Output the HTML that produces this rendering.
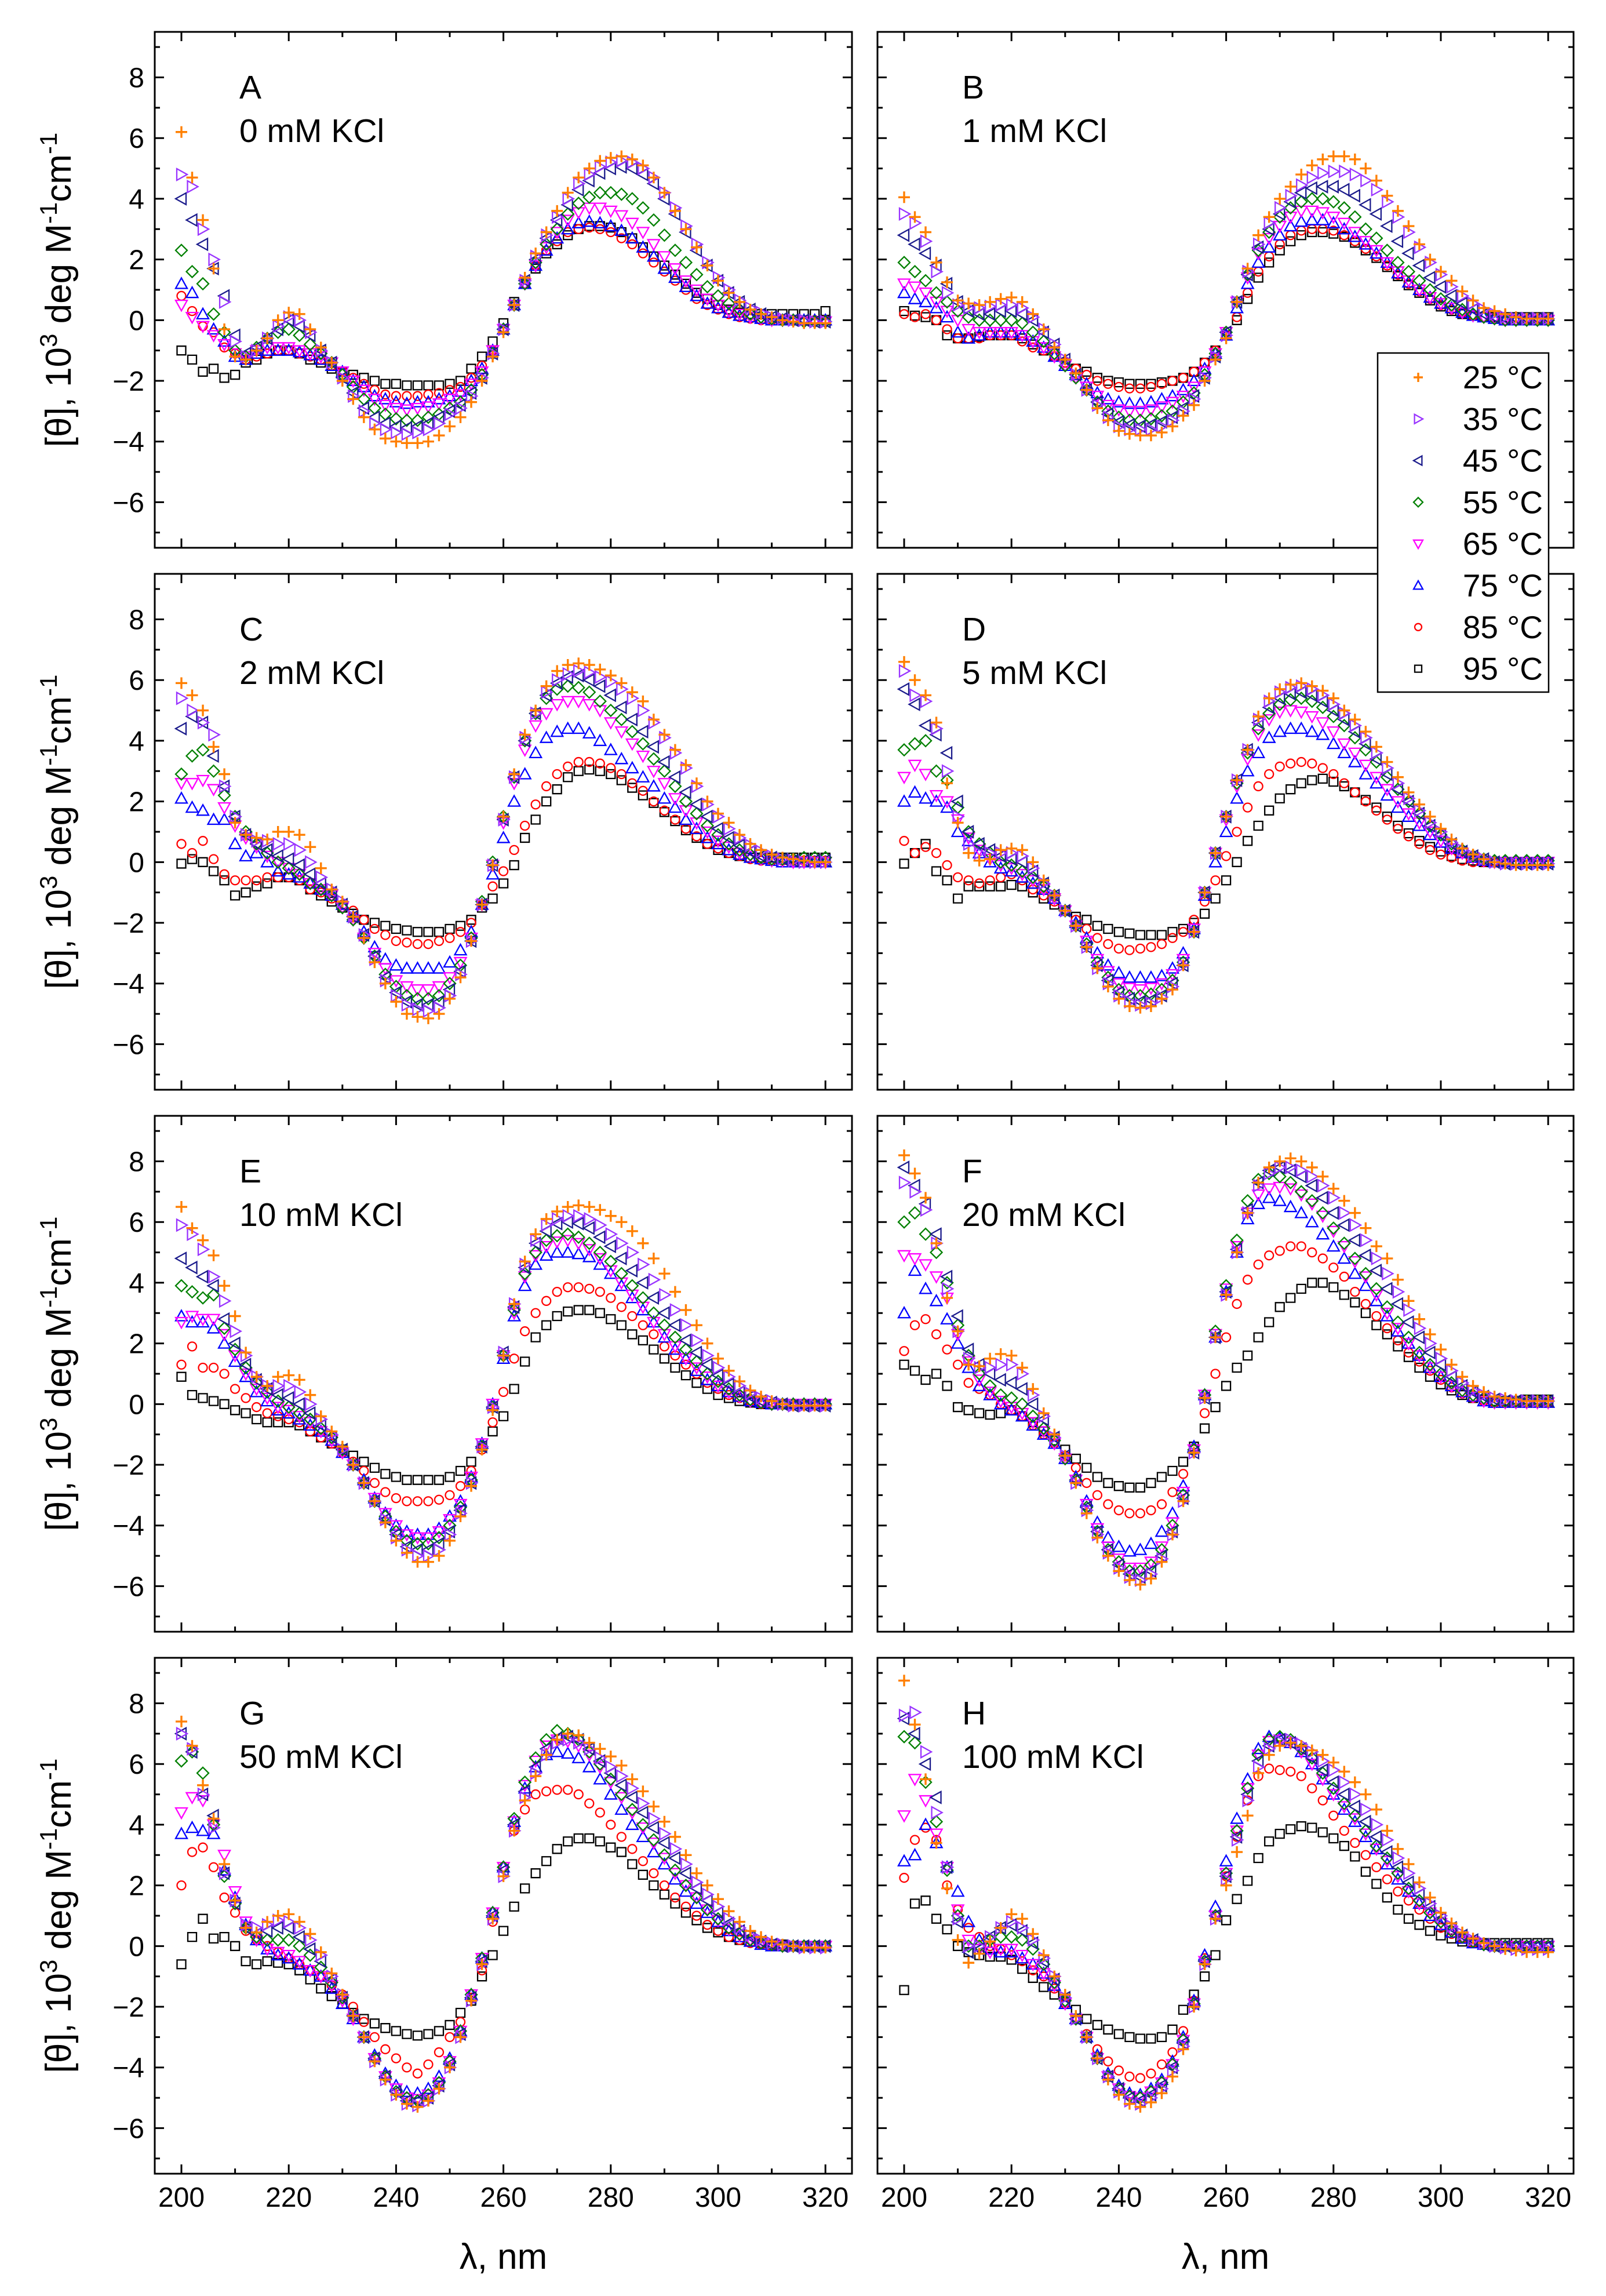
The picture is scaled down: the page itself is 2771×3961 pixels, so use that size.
<!DOCTYPE html>
<html><head><meta charset="utf-8"><title>CD spectra vs KCl and temperature</title>
<style>
html,body{margin:0;padding:0;background:#fff;}
svg{display:block;font-family:"Liberation Sans",Arial,sans-serif;}
</style></head>
<body>
<svg id="fig" xmlns="http://www.w3.org/2000/svg" width="2771" height="3961" viewBox="0 0 2771 3961">
<rect x="0" y="0" width="2771" height="3961" fill="#fff"/>
</svg>
<script>
const wavelengths=[200,202,204,206,208,210,212,214,216,218,220,222,224,226,228,230,232,234,236,238,240,242,244,246,248,250,252,254,256,258,260,262,264,266,268,270,272,274,276,278,280,282,284,286,288,290,292,294,296,298,300,302,304,306,308,310,312,314,316,318,320];
const temps=['25 °C','35 °C','45 °C','55 °C','65 °C','75 °C','85 °C','95 °C'];
const panelLetters=['A','B','C','D','E','F','G','H'];
const panelKCl=['0 mM KCl','1 mM KCl','2 mM KCl','5 mM KCl','10 mM KCl','20 mM KCl','50 mM KCl','100 mM KCl'];
const xTicks=[200,220,240,260,280,300,320];
const yTicks=[-6,-4,-2,0,2,4,6,8];

const A25=[6.2,4.7,3.3,1.7,-0.3,-1.2, -1.3,-1.0,-0.6,0.0,0.25,0.2,-0.3, -0.9,-1.4,-2.0,-2.6,-3.2,-3.6,-3.9,-4.0,-4.05,-4.05,-4.0,-3.8,-3.5,-3.2, -2.7,-2.0,-1.2,-0.4,0.5,1.4,2.2,2.9,3.6,4.2,4.7,5.0,5.25,5.35, 5.4,5.3,5.1,4.7,4.2,3.6,3.0,2.4,1.8,1.3,0.9,0.6,0.35,0.2,0.1,0.0,-0.05,-0.1,-0.1,-0.1];
const A35=[4.8,4.4,3.0,2.0,0.6,-0.7, -1.2,-1.0,-0.6,-0.2,0.1,0.0,-0.4, -1.0,-1.4,-1.9,-2.5,-3.0,-3.4,-3.6,-3.7,-3.75,-3.7,-3.6,-3.4,-3.1,-2.9, -2.5,-1.9,-1.1,-0.3,0.5,1.3,2.1,2.8,3.4,4.0,4.5,4.8,5.05,5.2, 5.25,5.2,5.0,4.7,4.2,3.7,3.1,2.5,1.9,1.4,1.0,0.65,0.4,0.25,0.1,0.05,0,0,-0.05,-0.05];
const A45=[4.0,3.3,2.5,1.7,0.8,-0.5, -1.1,-0.9,-0.6,-0.3,0.0,-0.2,-0.5, -1.0,-1.4,-1.9,-2.4,-2.9,-3.2,-3.4,-3.5,-3.55,-3.5,-3.4,-3.2,-3.0,-2.8, -2.4,-1.9,-1.1,-0.3,0.5,1.3,2.0,2.7,3.3,3.8,4.3,4.6,4.85,5.0, 5.05,5.0,4.8,4.5,4.0,3.5,2.9,2.3,1.8,1.3,0.9,0.6,0.35,0.2,0.1,0.05,0,0,-0.05,-0.05];
const A55=[2.3,1.6,1.2,0.2,-0.4,-1.0, -1.2,-0.9,-0.6,-0.4,-0.3,-0.5,-0.8, -1.1,-1.4,-1.8,-2.2,-2.6,-2.9,-3.1,-3.25,-3.3,-3.3,-3.2,-3.1,-2.9,-2.7, -2.3,-1.8,-1.1,-0.3,0.5,1.2,1.9,2.5,3.0,3.5,3.85,4.05,4.2,4.2, 4.15,4.0,3.7,3.3,2.8,2.3,1.9,1.5,1.1,0.8,0.55,0.35,0.2,0.1,0.05,0,0,-0.05,-0.05,-0.05];
const A65=[0.5,0.1,-0.2,-0.5,-0.8,-1.1, -1.2,-1.0,-0.9,-0.9,-0.9,-1.0,-1.1, -1.2,-1.4,-1.7,-2.0,-2.3,-2.6,-2.8,-2.9,-2.95,-2.9,-2.85,-2.75,-2.6,-2.45, -2.1,-1.7,-1.0,-0.3,0.5,1.2,1.8,2.4,2.9,3.3,3.55,3.7,3.7,3.6, 3.45,3.2,2.9,2.5,2.1,1.7,1.3,1.0,0.7,0.5,0.3,0.2,0.1,0.05,0,0,0,-0.05,-0.05,-0.05];
const A75=[1.2,0.9,0.2,-0.3,-0.7,-1.2, -1.3,-1.1,-1.0,-1.0,-1.0,-1.05,-1.15, -1.3,-1.5,-1.7,-2.0,-2.2,-2.5,-2.6,-2.7,-2.75,-2.7,-2.7,-2.6,-2.5,-2.35, -2.0,-1.6,-1.0,-0.3,0.5,1.2,1.8,2.3,2.7,3.0,3.2,3.25,3.2,3.1, 2.95,2.7,2.4,2.1,1.7,1.4,1.1,0.8,0.55,0.4,0.25,0.15,0.1,0.05,0,0,0,0,0,0];
const A85=[0.8,0.3,-0.2,-0.4,-0.9,-1.1, -1.3,-1.2,-1.1,-1.0,-1.0,-1.1,-1.2, -1.3,-1.5,-1.7,-1.9,-2.1,-2.3,-2.45,-2.5,-2.5,-2.5,-2.45,-2.4,-2.3,-2.2, -1.9,-1.5,-1.0,-0.3,0.5,1.2,1.8,2.3,2.6,2.9,3.0,3.05,3.0,2.9, 2.7,2.5,2.2,1.9,1.6,1.3,1.0,0.7,0.5,0.35,0.2,0.1,0.05,0,0,0,0,0,0,0];
const A95=[-1.0,-1.3,-1.7,-1.6,-1.9,-1.8, -1.4,-1.3,-1.1,-1.0,-1.0,-1.1,-1.3, -1.4,-1.6,-1.7,-1.8,-1.9,-2.0,-2.1,-2.1,-2.15,-2.15,-2.15,-2.15,-2.1,-2.0, -1.6,-1.2,-0.7,-0.1,0.6,1.2,1.7,2.2,2.5,2.8,3.0,3.1,3.1,3.05, 2.9,2.7,2.4,2.1,1.8,1.5,1.2,0.9,0.7,0.5,0.35,0.25,0.2,0.2,0.2,0.2,0.2,0.2,0.2,0.3];

const B25=[4.05,3.4,2.9,1.9,1.25,0.65, 0.55,0.5,0.6,0.7,0.75,0.6,0.2, -0.3,-0.9,-1.3,-1.75,-2.3,-2.9,-3.3,-3.65,-3.75,-3.8,-3.8,-3.7,-3.5,-3.15, -2.8,-2.0,-1.3,-0.6,0.6,1.7,2.8,3.4,4.0,4.4,4.8,5.1,5.3,5.4, 5.4,5.3,5.0,4.6,4.1,3.6,3.1,2.5,2.0,1.6,1.3,0.95,0.65,0.4,0.3,0.2,0.1,0.05,0.05,0.05];
const B35=[3.5,3.2,2.6,1.6,0.9,0.5, 0.4,0.4,0.45,0.5,0.5,0.4,0.1, -0.3,-0.8,-1.3,-1.8,-2.3,-2.8,-3.2,-3.5,-3.6,-3.6,-3.6,-3.5,-3.3,-3.0, -2.6,-1.9,-1.2,-0.5,0.6,1.6,2.5,3.2,3.7,4.1,4.45,4.7,4.85,4.9, 4.9,4.8,4.6,4.3,3.9,3.4,2.9,2.4,1.9,1.5,1.1,0.8,0.55,0.35,0.2,0.1,0.05,0.05,0.05,0.05];
const B45=[2.8,2.5,2.2,1.8,1.2,0.6, 0.3,0.2,0.2,0.3,0.3,0.2,0.0, -0.4,-0.8,-1.3,-1.8,-2.3,-2.7,-3.1,-3.35,-3.45,-3.5,-3.45,-3.35,-3.2,-2.9, -2.5,-1.9,-1.2,-0.4,0.6,1.5,2.4,3.0,3.5,3.9,4.2,4.35,4.4,4.4, 4.3,4.1,3.8,3.5,3.1,2.6,2.2,1.8,1.4,1.1,0.8,0.55,0.35,0.2,0.1,0.05,0.05,0.05,0.05,0.05];
const B55=[1.9,1.6,1.3,0.9,0.6,0.3, 0.1,0.0,0.0,0.0,0.0,-0.1,-0.4, -0.7,-1.1,-1.5,-1.9,-2.3,-2.7,-3.0,-3.2,-3.3,-3.3,-3.25,-3.15,-3.0,-2.7, -2.4,-1.8,-1.1,-0.4,0.6,1.5,2.3,2.9,3.4,3.7,3.9,4.0,4.0,3.9, 3.7,3.4,3.0,2.7,2.3,1.9,1.6,1.3,1.0,0.7,0.5,0.35,0.2,0.1,0.05,0,0,0,0,0];
const B65=[1.2,1.1,0.9,0.6,0.3,0.0, -0.3,-0.4,-0.4,-0.4,-0.4,-0.5,-0.7, -0.9,-1.2,-1.5,-1.9,-2.2,-2.5,-2.8,-2.95,-3.0,-3.0,-2.95,-2.85,-2.7,-2.5, -2.2,-1.7,-1.1,-0.4,0.6,1.4,2.2,2.7,3.1,3.4,3.6,3.6,3.55,3.4, 3.2,2.9,2.6,2.3,1.9,1.6,1.3,1.0,0.75,0.55,0.4,0.25,0.15,0.1,0.05,0,0,0,0,0];
const B75=[0.9,0.7,0.6,0.4,0.1,-0.4, -0.6,-0.5,-0.4,-0.4,-0.4,-0.5,-0.7, -0.9,-1.2,-1.5,-1.8,-2.1,-2.4,-2.6,-2.7,-2.75,-2.75,-2.7,-2.6,-2.5,-2.3, -2.0,-1.6,-1.1,-0.5,0.4,1.2,1.9,2.4,2.8,3.1,3.25,3.3,3.3,3.2, 3.0,2.75,2.5,2.2,1.9,1.55,1.25,1.0,0.75,0.55,0.4,0.25,0.15,0.1,0.05,0,0,0,0,0];
const B85=[0.2,0.1,0.2,0.0,-0.3,-0.6, -0.6,-0.6,-0.5,-0.5,-0.5,-0.7,-0.9, -1.0,-1.2,-1.4,-1.6,-1.8,-2.0,-2.1,-2.2,-2.25,-2.25,-2.2,-2.1,-2.0,-1.9, -1.7,-1.4,-1.0,-0.5,0.1,0.9,1.6,2.1,2.5,2.8,2.95,3.0,3.0,2.95, 2.8,2.6,2.35,2.1,1.8,1.5,1.2,0.95,0.7,0.5,0.35,0.25,0.15,0.1,0.05,0,0,0,0,0];
const B95=[0.3,0.15,0.1,0.0,-0.5,-0.6, -0.6,-0.55,-0.5,-0.5,-0.5,-0.6,-0.8, -1.0,-1.2,-1.4,-1.6,-1.7,-1.9,-2.0,-2.05,-2.1,-2.1,-2.1,-2.05,-2.0,-1.9, -1.7,-1.4,-1.0,-0.5,0.0,0.7,1.4,1.9,2.3,2.6,2.8,2.9,2.9,2.85, 2.75,2.55,2.3,2.05,1.75,1.45,1.15,0.9,0.65,0.45,0.3,0.2,0.15,0.1,0.1,0.1,0.1,0.1,0.1,0.1];

const C25=[5.9,5.5,5.0,3.8,2.9,1.3, 0.9,0.8,0.75,1.0,1.0,0.9,0.5, -0.2,-0.9,-1.3,-1.8,-2.5,-3.3,-4.0,-4.6,-5.0,-5.1,-5.15,-5.0,-4.5,-3.8, -2.6,-1.4,-0.1,1.5,2.9,4.2,5.0,5.8,6.3,6.5,6.55,6.5,6.35,6.15, 5.9,5.6,5.3,4.7,4.2,3.7,3.2,2.6,2.0,1.6,1.3,0.9,0.6,0.4,0.25,0.15,0.1,0.05,0,0];
const C35=[5.4,5.0,4.6,4.2,2.5,1.5, 0.9,0.7,0.7,0.6,0.6,0.4,0.0, -0.5,-0.9,-1.3,-1.8,-2.4,-3.2,-3.9,-4.4,-4.7,-4.85,-4.9,-4.8,-4.4,-3.7, -2.6,-1.4,-0.1,1.4,2.8,4.1,4.9,5.6,6.0,6.2,6.3,6.25,6.1,5.95, 5.7,5.4,5.0,4.6,4.1,3.6,3.1,2.5,1.9,1.5,1.1,0.8,0.55,0.35,0.2,0.1,0.05,0,0,0];
const C45=[4.4,4.8,4.6,3.5,2.5,1.5, 0.9,0.6,0.4,0.2,0.1,-0.1,-0.4, -0.7,-1.0,-1.4,-1.8,-2.4,-3.1,-3.8,-4.3,-4.6,-4.7,-4.7,-4.6,-4.2,-3.6, -2.6,-1.4,-0.1,1.4,2.8,4.0,4.9,5.5,5.9,6.1,6.15,6.0,5.8,5.5, 5.1,4.7,4.3,3.8,3.3,2.8,2.3,1.9,1.5,1.1,0.8,0.55,0.35,0.2,0.15,0.1,0.05,0.05,0.05,0.05];
const C55=[2.9,3.5,3.7,3.0,2.2,1.5, 1.0,0.6,0.3,0.0,-0.2,-0.4,-0.7, -0.9,-1.1,-1.5,-1.9,-2.5,-3.1,-3.7,-4.1,-4.4,-4.5,-4.5,-4.4,-4.0,-3.4, -2.5,-1.3,0.0,1.5,2.8,4.0,4.9,5.4,5.7,5.8,5.75,5.6,5.3,5.0, 4.7,4.3,3.9,3.4,3.0,2.5,2.0,1.6,1.2,0.9,0.6,0.4,0.25,0.15,0.1,0.1,0.1,0.15,0.15,0.15];
const C65=[2.6,2.6,2.7,2.4,1.8,1.2, 0.8,0.5,0.2,0.0,-0.2,-0.4,-0.7, -0.9,-1.1,-1.5,-1.9,-2.5,-3.0,-3.5,-3.9,-4.1,-4.2,-4.2,-4.1,-3.8,-3.3, -2.5,-1.4,-0.1,1.3,2.6,3.7,4.5,4.9,5.2,5.3,5.3,5.2,5.0,4.6, 4.3,3.9,3.5,3.0,2.6,2.1,1.7,1.3,1.0,0.7,0.5,0.3,0.2,0.1,0.05,0.05,0,0,0,0];
const C75=[2.1,1.8,1.7,1.4,1.4,0.6, 0.2,0.3,0.0,-0.3,-0.4,-0.5,-0.7, -0.9,-1.1,-1.4,-1.8,-2.3,-2.8,-3.2,-3.4,-3.5,-3.5,-3.5,-3.5,-3.3,-2.9, -2.3,-1.4,-0.4,0.8,2.0,2.9,3.6,4.1,4.3,4.4,4.4,4.25,4.0,3.7, 3.4,3.1,2.8,2.5,2.1,1.8,1.4,1.1,0.8,0.6,0.4,0.25,0.15,0.1,0.05,0,0,0,0,0];
const C85=[0.6,0.3,0.7,0.1,-0.4,-0.6, -0.6,-0.6,-0.5,-0.5,-0.5,-0.6,-0.9, -1.0,-1.2,-1.4,-1.6,-1.9,-2.2,-2.4,-2.6,-2.65,-2.7,-2.7,-2.6,-2.5,-2.3, -2.0,-1.4,-0.8,-0.3,0.4,1.2,1.9,2.5,2.9,3.15,3.3,3.3,3.25,3.1, 2.9,2.6,2.35,2.0,1.7,1.4,1.1,0.85,0.6,0.45,0.3,0.2,0.1,0.05,0.05,0.05,0.05,0.05,0.05,0.05];
const C95=[-0.05,0.1,0.0,-0.3,-0.6,-1.1, -1.0,-0.8,-0.7,-0.5,-0.5,-0.6,-0.9, -1.1,-1.3,-1.5,-1.7,-1.9,-2.0,-2.1,-2.2,-2.25,-2.3,-2.3,-2.3,-2.2,-2.1, -1.9,-1.5,-1.2,-0.7,-0.1,0.8,1.4,2.0,2.4,2.8,3.0,3.05,3.0,2.9, 2.7,2.45,2.2,1.95,1.65,1.35,1.05,0.8,0.6,0.4,0.3,0.2,0.15,0.15,0.15,0.15,0.15,0.15,0.15,0.15];

const D25=[6.6,6.0,5.5,4.6,2.6,1.3, 0.3,0.05,0.1,0.4,0.45,0.4,0.0, -0.6,-1.1,-1.6,-2.1,-2.8,-3.5,-4.1,-4.5,-4.75,-4.8,-4.75,-4.5,-4.2,-3.4, -2.3,-1.0,0.3,1.5,2.7,3.7,4.8,5.4,5.7,5.85,5.9,5.8,5.65,5.4, 5.0,4.7,4.3,3.8,3.3,2.8,2.3,1.9,1.5,1.1,0.75,0.45,0.25,0.1,0.0,-0.05,-0.1,-0.1,-0.1,-0.1];
const D35=[6.3,5.5,5.3,4.4,3.0,1.5, 0.6,0.3,0.3,0.3,0.3,0.2,-0.2, -0.7,-1.1,-1.6,-2.1,-2.8,-3.5,-4.0,-4.4,-4.6,-4.7,-4.65,-4.45,-4.1,-3.4, -2.3,-1.0,0.3,1.5,2.7,3.7,4.7,5.3,5.6,5.75,5.8,5.7,5.5,5.2, 4.9,4.5,4.1,3.6,3.1,2.6,2.1,1.7,1.3,1.0,0.65,0.4,0.2,0.1,0.0,-0.05,-0.05,-0.05,-0.05,-0.05];
const D45=[5.7,5.2,4.5,4.2,3.6,2.0, 1.0,0.6,0.4,0.2,0.1,0.0,-0.3, -0.7,-1.1,-1.6,-2.1,-2.8,-3.4,-3.9,-4.3,-4.5,-4.6,-4.55,-4.4,-4.0,-3.4, -2.3,-1.0,0.3,1.5,2.7,3.7,4.6,5.1,5.4,5.55,5.6,5.5,5.3,5.0, 4.7,4.3,3.9,3.4,2.9,2.4,2.0,1.6,1.2,0.9,0.6,0.35,0.2,0.1,0.0,-0.05,-0.05,-0.05,-0.05,-0.05];
const D55=[3.7,3.9,4.0,3.0,2.7,1.8, 1.0,0.6,0.3,0.0,-0.1,-0.3,-0.5, -0.8,-1.1,-1.6,-2.1,-2.7,-3.3,-3.8,-4.2,-4.4,-4.4,-4.35,-4.2,-3.9,-3.3, -2.3,-1.0,0.3,1.5,2.6,3.6,4.4,4.9,5.2,5.35,5.4,5.3,5.1,4.8, 4.5,4.1,3.7,3.3,2.8,2.4,2.0,1.6,1.2,0.9,0.6,0.4,0.2,0.1,0.05,0.05,0.05,0.05,0.05,0.05];
const D65=[2.8,3.2,2.9,2.2,2.0,1.4, 0.8,0.4,0.1,-0.1,-0.2,-0.4,-0.6, -0.9,-1.2,-1.6,-2.1,-2.6,-3.2,-3.6,-4.0,-4.15,-4.2,-4.15,-4.0,-3.7,-3.2, -2.2,-1.0,0.3,1.4,2.5,3.4,4.2,4.7,4.95,5.0,4.95,4.8,4.6,4.3, 3.9,3.6,3.2,2.8,2.4,2.0,1.6,1.3,1.0,0.7,0.45,0.3,0.15,0.05,0,0,0,0,0,0];
const D75=[2.0,2.3,2.1,2.0,1.8,1.0, 0.7,0.3,0.0,-0.2,-0.3,-0.5,-0.7, -0.9,-1.2,-1.6,-2.0,-2.5,-3.0,-3.4,-3.65,-3.8,-3.8,-3.8,-3.75,-3.5,-3.0, -2.2,-1.1,0.0,1.0,2.1,3.0,3.6,4.1,4.3,4.4,4.4,4.3,4.2,3.9, 3.6,3.3,2.9,2.6,2.2,1.8,1.5,1.2,0.9,0.65,0.45,0.3,0.15,0.05,0,0,0,0,0,0];
const D85=[0.7,0.3,0.5,0.3,-0.1,-0.5, -0.6,-0.7,-0.6,-0.5,-0.4,-0.6,-0.9, -1.1,-1.3,-1.6,-1.9,-2.2,-2.5,-2.7,-2.85,-2.9,-2.85,-2.8,-2.7,-2.5,-2.3, -1.9,-1.3,-0.6,0.2,1.0,1.8,2.5,2.9,3.15,3.25,3.3,3.25,3.1,2.9, 2.6,2.3,2.0,1.7,1.4,1.1,0.85,0.6,0.4,0.25,0.15,0.05,0,0,0,0,0,0,0,0];
const D95=[-0.05,0.3,0.6,-0.3,-0.6,-1.2, -0.8,-0.8,-0.8,-0.8,-0.75,-0.8,-1.0, -1.2,-1.4,-1.6,-1.8,-1.9,-2.1,-2.2,-2.3,-2.35,-2.4,-2.4,-2.4,-2.3,-2.2, -2.0,-1.7,-1.2,-0.6,0.0,0.7,1.2,1.7,2.1,2.4,2.6,2.7,2.75,2.65, 2.5,2.3,2.05,1.8,1.5,1.2,0.95,0.7,0.5,0.35,0.2,0.1,0.05,0,0,0,0,0,0,0];

const E25=[6.5,5.8,5.4,4.9,3.9,2.9, 1.7,0.9,0.6,0.9,0.95,0.8,0.3, -0.4,-0.9,-1.4,-2.0,-2.6,-3.2,-3.9,-4.5,-4.9,-5.2,-5.2,-5.0,-4.5,-3.7, -2.7,-1.5,-0.2,1.6,3.3,4.7,5.6,6.1,6.35,6.5,6.55,6.5,6.4,6.2, 6.0,5.7,5.3,4.8,4.3,3.7,3.1,2.6,2.0,1.5,1.1,0.75,0.45,0.25,0.1,0,-0.05,-0.05,-0.05,-0.05];
const E35=[5.9,5.6,5.1,4.2,3.4,2.4, 1.6,0.9,0.6,0.6,0.6,0.4,0.0, -0.5,-1.0,-1.5,-2.0,-2.6,-3.2,-3.8,-4.4,-4.8,-5.0,-5.0,-4.8,-4.3,-3.6, -2.6,-1.4,-0.1,1.7,3.3,4.6,5.4,5.9,6.1,6.2,6.2,6.1,5.9,5.6, 5.3,5.0,4.6,4.1,3.6,3.1,2.6,2.1,1.6,1.2,0.9,0.6,0.35,0.2,0.1,0,-0.05,-0.05,-0.05,-0.05];
const E45=[4.8,4.5,4.2,3.9,2.8,2.0, 1.3,0.8,0.5,0.3,0.2,0.0,-0.3, -0.7,-1.1,-1.5,-2.0,-2.6,-3.2,-3.8,-4.3,-4.7,-4.8,-4.8,-4.6,-4.2,-3.5, -2.6,-1.4,-0.1,1.7,3.2,4.5,5.3,5.7,5.95,6.0,5.95,5.8,5.5,5.2, 4.8,4.4,4.0,3.5,3.0,2.6,2.1,1.7,1.3,0.95,0.65,0.4,0.25,0.1,0.05,0,-0.05,-0.05,-0.05,-0.05];
const E55=[3.9,3.7,3.5,3.6,2.5,1.8, 1.2,0.7,0.4,0.1,-0.1,-0.3,-0.5, -0.8,-1.1,-1.5,-2.0,-2.6,-3.2,-3.7,-4.2,-4.5,-4.6,-4.6,-4.4,-4.0,-3.4, -2.5,-1.4,-0.1,1.6,3.1,4.3,5.0,5.4,5.55,5.6,5.5,5.3,5.0,4.7, 4.3,3.9,3.5,3.0,2.6,2.2,1.8,1.4,1.0,0.75,0.5,0.3,0.15,0.05,0,0,0,0,0,0];
const E65=[2.7,2.9,2.8,2.8,2.3,1.6, 1.0,0.5,0.2,-0.1,-0.2,-0.4,-0.6, -0.9,-1.2,-1.6,-2.0,-2.6,-3.1,-3.6,-4.0,-4.3,-4.4,-4.4,-4.2,-3.8,-3.3, -2.4,-1.3,0.0,1.6,3.0,4.2,4.9,5.2,5.35,5.4,5.3,5.1,4.8,4.4, 4.0,3.6,3.2,2.7,2.3,1.9,1.5,1.2,0.9,0.6,0.4,0.25,0.1,0.05,0,0,0,0,0,0];
const E75=[2.9,2.7,2.7,2.5,2.0,1.4, 0.9,0.4,0.1,-0.2,-0.3,-0.5,-0.7, -0.9,-1.2,-1.6,-2.0,-2.5,-3.1,-3.6,-4.0,-4.2,-4.3,-4.3,-4.1,-3.7,-3.2, -2.4,-1.3,0.0,1.5,2.9,3.9,4.6,4.9,5.0,5.0,4.95,4.85,4.6,4.3, 3.9,3.5,3.1,2.7,2.2,1.8,1.5,1.1,0.8,0.6,0.4,0.25,0.1,0.05,0,0,0,0,0,0];
const E85=[1.3,1.9,1.2,1.2,1.0,0.5, 0.2,-0.1,-0.3,-0.4,-0.5,-0.6,-0.9, -1.1,-1.3,-1.6,-1.9,-2.2,-2.6,-2.9,-3.1,-3.2,-3.2,-3.2,-3.15,-3.0,-2.7, -2.2,-1.5,-0.6,0.4,1.5,2.4,3.0,3.4,3.7,3.85,3.85,3.8,3.7,3.5, 3.2,2.9,2.6,2.3,1.9,1.6,1.3,1.0,0.7,0.5,0.3,0.2,0.1,0,0,0,0,0,0,0];
const E95=[0.9,0.3,0.2,0.1,0.0,-0.2, -0.3,-0.5,-0.6,-0.6,-0.6,-0.7,-0.9, -1.1,-1.3,-1.5,-1.7,-1.9,-2.1,-2.3,-2.4,-2.5,-2.5,-2.5,-2.5,-2.4,-2.2, -1.9,-1.4,-0.9,-0.4,0.5,1.4,2.2,2.6,2.9,3.05,3.1,3.1,3.0,2.8, 2.6,2.3,2.1,1.8,1.5,1.2,0.95,0.7,0.5,0.3,0.2,0.1,0.05,0,0,0,0,0,0,0];

const F25=[8.2,7.6,6.8,5.3,3.5,2.4, 1.3,1.25,1.5,1.65,1.6,1.2,0.5, -0.3,-1.0,-1.7,-2.6,-3.6,-4.4,-5.0,-5.5,-5.8,-5.95,-5.75,-5.2,-4.3,-3.2, -1.6,0.2,2.2,3.6,5.0,6.3,7.3,7.8,8.0,8.1,8.0,7.8,7.5,7.1, 6.7,6.3,5.8,5.2,4.8,4.1,3.4,2.8,2.3,1.8,1.3,0.9,0.6,0.4,0.25,0.2,0.15,0.1,0.1,0.1];
const F35=[7.3,7.0,6.4,5.3,3.8,2.4, 1.5,1.2,1.2,1.3,1.3,1.0,0.3, -0.4,-1.1,-1.7,-2.6,-3.5,-4.3,-4.9,-5.4,-5.7,-5.8,-5.6,-5.1,-4.3,-3.2, -1.6,0.2,2.2,3.6,5.0,6.3,7.2,7.6,7.8,7.8,7.7,7.5,7.2,6.8, 6.3,5.9,5.4,4.8,4.3,3.7,3.1,2.5,2.0,1.5,1.1,0.7,0.45,0.3,0.2,0.15,0.1,0.1,0.1,0.1];
const F45=[7.8,7.2,6.6,5.6,4.2,2.9, 1.8,1.3,1.0,0.8,0.7,0.5,0.0, -0.5,-1.1,-1.7,-2.5,-3.4,-4.2,-4.8,-5.3,-5.6,-5.7,-5.5,-5.0,-4.2,-3.1, -1.6,0.2,2.2,3.7,5.1,6.4,7.3,7.7,7.8,7.7,7.5,7.2,6.8,6.3, 5.9,5.4,4.9,4.4,3.8,3.3,2.7,2.2,1.7,1.3,0.9,0.6,0.4,0.25,0.15,0.1,0.1,0.1,0.1,0.1];
const F55=[6.0,6.3,5.6,5.0,4.0,2.6, 1.6,1.0,0.6,0.3,0.2,0.0,-0.4, -0.8,-1.2,-1.8,-2.5,-3.4,-4.2,-4.8,-5.2,-5.5,-5.5,-5.3,-4.8,-4.0,-3.0, -1.5,0.3,2.4,3.9,5.4,6.7,7.4,7.6,7.5,7.3,7.0,6.7,6.3,5.8, 5.3,4.8,4.3,3.8,3.2,2.7,2.2,1.7,1.3,1.0,0.7,0.45,0.3,0.2,0.1,0.1,0.1,0.1,0.1,0.1];
const F65=[4.9,4.8,4.6,4.2,3.5,2.3, 1.4,0.8,0.4,0.1,-0.1,-0.3,-0.6, -0.9,-1.3,-1.8,-2.5,-3.3,-4.1,-4.7,-5.1,-5.4,-5.4,-5.2,-4.7,-3.9,-2.9, -1.5,0.3,2.3,3.8,5.2,6.3,6.9,7.1,7.15,7.1,6.9,6.6,6.2,5.7, 5.2,4.7,4.2,3.6,3.0,2.5,2.0,1.6,1.2,0.9,0.6,0.4,0.25,0.1,0.05,0.05,0.05,0.05,0.05,0.05];
const F75=[3.0,4.4,3.8,3.4,2.8,2.0, 1.2,0.6,0.3,0.0,-0.2,-0.4,-0.7, -1.0,-1.3,-1.8,-2.4,-3.2,-3.9,-4.4,-4.7,-4.85,-4.8,-4.6,-4.2,-3.6,-2.7, -1.4,0.3,2.2,3.7,5.0,6.1,6.6,6.8,6.7,6.5,6.3,6.0,5.6,5.2, 4.8,4.3,3.9,3.4,2.9,2.4,2.0,1.6,1.2,0.9,0.6,0.4,0.25,0.1,0.05,0.05,0.05,0.05,0.05,0.05];
const F85=[1.75,2.6,2.8,2.3,1.8,1.3, 0.7,0.5,0.3,0.0,-0.2,-0.4,-0.7, -1.0,-1.3,-1.7,-2.1,-2.6,-3.0,-3.3,-3.5,-3.6,-3.6,-3.5,-3.3,-2.9,-2.3, -1.5,-0.3,1.0,2.2,3.3,4.1,4.6,4.9,5.05,5.2,5.2,5.0,4.8,4.5, 4.2,3.7,3.3,2.9,2.5,2.1,1.7,1.4,1.1,0.8,0.55,0.35,0.2,0.1,0.05,0.05,0.05,0.05,0.05,0.05];
const F95=[1.3,1.1,0.8,1.0,0.6,-0.1, -0.2,-0.3,-0.35,-0.3,-0.2,-0.4,-0.6, -0.9,-1.2,-1.5,-1.8,-2.1,-2.4,-2.6,-2.7,-2.75,-2.75,-2.6,-2.4,-2.2,-1.9, -1.4,-0.8,-0.1,0.6,1.2,1.6,2.2,2.7,3.2,3.5,3.8,4.0,4.0,3.85, 3.6,3.35,3.0,2.6,2.3,1.9,1.55,1.2,0.9,0.65,0.45,0.3,0.2,0.15,0.1,0.1,0.1,0.15,0.15,0.15];

const G25=[7.4,6.6,5.3,4.2,2.7,1.5, 0.6,0.45,0.8,1.0,1.05,0.8,0.4, -0.2,-0.9,-1.6,-2.3,-3.0,-3.8,-4.4,-4.9,-5.2,-5.3,-5.1,-4.7,-4.0,-3.0, -1.8,-0.6,0.9,2.3,3.8,4.8,5.6,6.3,6.8,7.0,6.95,6.7,6.5,6.25, 5.95,5.5,5.1,4.6,4.1,3.6,3.0,2.4,2.0,1.55,1.15,0.8,0.5,0.3,0.15,0.05,0,-0.05,-0.05,-0.05];
const G35=[7.0,6.5,5.0,3.9,2.4,1.5, 0.7,0.6,0.7,0.85,0.8,0.6,0.2, -0.3,-1.0,-1.6,-2.3,-3.0,-3.8,-4.4,-4.9,-5.2,-5.25,-5.1,-4.7,-4.0,-3.0, -1.8,-0.6,0.9,2.3,3.8,4.9,5.7,6.3,6.7,6.8,6.7,6.5,6.2,5.9, 5.6,5.2,4.7,4.2,3.7,3.2,2.7,2.1,1.7,1.3,0.9,0.6,0.35,0.2,0.1,0.05,0,-0.05,-0.05,-0.05];
const G45=[7.0,6.4,5.0,4.3,2.4,1.4, 0.6,0.4,0.5,0.6,0.6,0.3,-0.1, -0.5,-1.1,-1.7,-2.3,-3.0,-3.7,-4.3,-4.8,-5.1,-5.1,-5.0,-4.6,-3.9,-2.9, -1.7,-0.5,1.0,2.5,4.0,5.1,5.9,6.5,6.85,6.9,6.8,6.5,6.1,5.7, 5.3,4.9,4.4,3.9,3.4,2.9,2.4,1.9,1.5,1.1,0.75,0.5,0.3,0.15,0.05,0,0,0,0,0];
const G55=[6.1,6.4,5.7,4.0,2.3,1.4, 0.6,0.3,0.2,0.2,0.2,0.0,-0.3, -0.7,-1.2,-1.7,-2.3,-3.0,-3.7,-4.3,-4.8,-5.0,-5.1,-4.9,-4.5,-3.8,-2.8, -1.6,-0.4,1.1,2.6,4.2,5.4,6.2,6.8,7.1,7.0,6.8,6.4,6.0,5.5, 5.0,4.5,4.0,3.5,3.0,2.5,2.0,1.6,1.2,0.9,0.6,0.4,0.2,0.1,0.05,0,0,0,0,0];
const G65=[4.4,4.9,4.8,4.0,3.0,1.8, 0.8,0.2,-0.1,-0.2,-0.3,-0.5,-0.8, -1.0,-1.3,-1.8,-2.4,-3.0,-3.7,-4.3,-4.7,-5.0,-5.05,-4.9,-4.5,-3.8,-2.8, -1.6,-0.4,1.1,2.6,4.1,5.3,6.1,6.6,6.8,6.75,6.6,6.3,5.9,5.4, 4.9,4.4,3.9,3.4,2.9,2.4,2.0,1.6,1.2,0.85,0.55,0.35,0.2,0.1,0.05,0,0,0,0,0];
const G75=[3.7,3.9,3.8,3.7,2.5,1.6, 0.7,0.2,-0.1,-0.3,-0.4,-0.6,-0.8, -1.0,-1.4,-1.9,-2.4,-3.0,-3.6,-4.2,-4.6,-4.8,-4.85,-4.7,-4.3,-3.7,-2.8, -1.6,-0.4,1.1,2.6,4.1,5.2,5.9,6.3,6.4,6.35,6.2,5.9,5.5,5.0, 4.5,4.0,3.6,3.1,2.7,2.2,1.8,1.4,1.1,0.8,0.5,0.3,0.15,0.05,0,0,0,0,0,0];
const G85=[2.0,3.1,3.25,2.6,1.6,1.1, 0.5,0.2,0.0,-0.2,-0.4,-0.6,-0.8, -1.0,-1.3,-1.6,-2.0,-2.5,-3.0,-3.4,-3.7,-4.0,-4.2,-3.9,-3.5,-3.0,-2.5, -1.7,-0.8,0.8,2.6,3.8,4.5,5.0,5.1,5.15,5.15,5.0,4.7,4.4,4.0, 3.6,3.2,2.8,2.4,2.0,1.6,1.3,1.0,0.7,0.5,0.3,0.2,0.1,0.05,0,0,0,0,0,0];
const G95=[-0.6,0.3,0.9,0.25,0.3,0.0, -0.5,-0.6,-0.5,-0.55,-0.6,-0.8,-1.1, -1.4,-1.65,-1.9,-2.2,-2.4,-2.55,-2.7,-2.8,-2.9,-2.95,-2.9,-2.8,-2.6,-2.2, -1.8,-1.0,-0.3,0.5,1.3,1.9,2.4,2.8,3.2,3.45,3.55,3.55,3.45,3.25, 3.1,2.7,2.35,2.0,1.7,1.4,1.1,0.85,0.6,0.45,0.3,0.2,0.15,0.1,0.05,0.05,0,0,0,0];

const H25=[8.75,7.3,5.5,3.4,1.9,0.2, -0.55,-0.25,0.15,0.6,1.05,0.9,0.4, -0.3,-1.0,-1.6,-2.3,-3.0,-3.7,-4.4,-4.9,-5.2,-5.3,-5.15,-4.85,-4.3,-3.4, -2.0,-0.6,0.9,2.0,3.1,4.3,5.7,6.3,6.6,6.7,6.6,6.45,6.3,6.05, 5.75,5.4,5.0,4.5,3.8,3.2,2.7,2.1,1.6,1.1,0.75,0.45,0.25,0.1,0.0,-0.1,-0.15,-0.2,-0.2,-0.2];
const H35=[7.6,7.7,6.4,4.4,2.6,0.9, 0.0,0.0,0.3,0.6,0.8,0.6,0.2, -0.4,-1.0,-1.7,-2.4,-3.0,-3.7,-4.3,-4.8,-5.1,-5.2,-5.0,-4.7,-4.1,-3.3, -2.0,-0.6,0.9,2.2,3.5,4.8,5.9,6.5,6.75,6.8,6.65,6.4,6.1,5.8, 5.4,5.0,4.5,4.0,3.5,2.9,2.4,1.9,1.4,1.0,0.65,0.4,0.2,0.1,0,-0.05,-0.1,-0.1,-0.1,-0.1];
const H45=[7.5,7.0,6.0,4.9,2.6,0.8, -0.2,-0.1,0.3,0.6,0.7,0.5,0.1, -0.5,-1.1,-1.7,-2.4,-3.0,-3.7,-4.3,-4.7,-5.0,-5.1,-4.9,-4.6,-4.0,-3.2, -1.9,-0.5,1.0,2.3,3.6,5.0,6.1,6.6,6.8,6.7,6.5,6.2,5.8,5.4, 5.0,4.6,4.1,3.6,3.1,2.6,2.1,1.7,1.3,0.9,0.6,0.35,0.2,0.05,0,0,0,0,0,0];
const H55=[6.9,6.7,5.4,4.1,2.5,1.0, 0.0,0.0,0.2,0.3,0.3,0.2,-0.1, -0.6,-1.2,-1.8,-2.4,-3.0,-3.7,-4.3,-4.7,-4.95,-5.0,-4.8,-4.5,-3.9,-3.1, -1.9,-0.5,1.0,2.4,3.8,5.2,6.3,6.8,6.9,6.8,6.5,6.2,5.7,5.2, 4.7,4.3,3.8,3.3,2.9,2.4,1.9,1.5,1.1,0.8,0.5,0.3,0.15,0.05,0,0,0,0,0,0];
const H65=[4.3,5.5,4.8,3.7,2.6,1.2, 0.2,-0.1,-0.2,-0.1,-0.1,-0.3,-0.6, -0.9,-1.3,-1.9,-2.4,-3.0,-3.7,-4.3,-4.7,-4.95,-5.0,-4.8,-4.5,-3.9,-3.1, -1.9,-0.5,1.0,2.4,3.8,5.2,6.3,6.75,6.8,6.7,6.4,6.0,5.5,5.0, 4.6,4.2,3.7,3.2,2.8,2.3,1.8,1.4,1.1,0.75,0.5,0.3,0.15,0.05,0,0,0,0,0,0];
const H75=[2.8,3.0,4.0,3.4,2.6,1.8, 0.8,0.2,-0.1,-0.2,-0.2,-0.4,-0.6, -0.9,-1.3,-1.9,-2.4,-3.0,-3.6,-4.2,-4.6,-4.85,-4.9,-4.7,-4.4,-3.8,-3.0, -1.8,-0.3,1.3,2.8,4.2,5.5,6.5,6.9,6.85,6.7,6.4,6.0,5.5,5.0, 4.5,4.1,3.6,3.2,2.7,2.2,1.8,1.4,1.0,0.7,0.45,0.25,0.1,0.05,0,0,0,0,0,0];
const H85=[2.25,3.5,3.9,3.5,2.0,1.2, 0.6,0.3,0.0,-0.1,-0.3,-0.5,-0.8, -1.0,-1.4,-1.9,-2.4,-2.9,-3.4,-3.8,-4.1,-4.3,-4.35,-4.2,-3.9,-3.5,-2.8, -1.8,-0.4,1.0,2.3,3.6,4.8,5.6,5.85,5.8,5.75,5.6,5.2,4.8,4.3, 3.8,3.4,3.0,2.6,2.2,1.8,1.5,1.2,0.9,0.6,0.4,0.25,0.1,0.05,0,0,0,0,0,0];
const H95=[-1.45,1.4,1.5,0.9,0.55,0.0, -0.2,-0.3,-0.35,-0.35,-0.45,-0.75,-1.05, -1.35,-1.6,-1.85,-2.1,-2.4,-2.6,-2.75,-2.9,-3.0,-3.05,-3.05,-3.0,-2.75,-2.1, -1.6,-1.0,-0.3,0.85,1.55,2.15,2.9,3.45,3.7,3.85,3.95,3.9,3.75,3.55, 3.3,2.95,2.45,2.05,1.6,1.2,0.9,0.7,0.5,0.35,0.25,0.15,0.1,0.1,0.1,0.1,0.1,0.1,0.1,0.1];

const panelSeries=[
 [A25,A35,A45,A55,A65,A75,A85,A95],
 [B25,B35,B45,B55,B65,B75,B85,B95],
 [C25,C35,C45,C55,C65,C75,C85,C95],
 [D25,D35,D45,D55,D65,D75,D85,D95],
 [E25,E35,E45,E55,E65,E75,E85,E95],
 [F25,F35,F45,F55,F65,F75,F85,F95],
 [G25,G35,G45,G55,G65,G75,G85,G95],
 [H25,H35,H45,H55,H65,H75,H85,H95]
];

/* ---------- layout / style (not data) ---------- */
const NS='http://www.w3.org/2000/svg';
const svg=document.getElementById('fig');
const colLeft=[267,1514], colRight=[1470,2715];
const rowTop=[55,990,1925,2860], panelH=890;
const X0=200, PXNM=9.26, XOFF=46;
const YMAX=9.5, PXU=52.35;
const colors=['#ff7f00','#9933ff','#1c1c8c','#008000','#ff00ff','#0000ff','#ff0000','#000000'];
const shapes=['plus','tri-right','tri-left','diamond','tri-down','tri-up','circle','square'];

function xScale(col,nm){return colLeft[col]+XOFF+(nm-X0)*PXNM;}
function yScale(row,v){return rowTop[row]+(YMAX-v)*PXU;}

function el(tag,attrs,parent){
  const e=document.createElementNS(NS,tag);
  for(const k in attrs){e.setAttribute(k,attrs[k]);}
  (parent||svg).appendChild(e);
  return e;
}
function markerPath(shape,x,y,s){
  switch(shape){
    case 'plus': return `M${x-s},${y}H${x+s}M${x},${y-s}V${y+s}`;
    case 'tri-right': return `M${x-s*0.8},${y-s}L${x+s},${y}L${x-s*0.8},${y+s}Z`;
    case 'tri-left': return `M${x+s*0.8},${y-s}L${x-s},${y}L${x+s*0.8},${y+s}Z`;
    case 'tri-up': return `M${x-s},${y+s*0.8}L${x},${y-s}L${x+s},${y+s*0.8}Z`;
    case 'tri-down': return `M${x-s},${y-s*0.8}L${x},${y+s}L${x+s},${y-s*0.8}Z`;
    case 'diamond': return `M${x},${y-s}L${x+s},${y}L${x},${y+s}L${x-s},${y}Z`;
    case 'square': return `M${x-s*0.75},${y-s*0.75}H${x+s*0.75}V${y+s*0.75}H${x-s*0.75}Z`;
  }
}
function drawMarker(parent,shape,x,y,s,color){
  let m;
  if(shape==='circle'){
    m=el('circle',{cx:x,cy:y,r:s*0.75,fill:'none',stroke:color,'stroke-width':2.3},parent);
  }else{
    m=el('path',{d:markerPath(shape,x,y,s),fill:'none',stroke:color,'stroke-width':shape==='plus'?3.4:2.3},parent);
  }
  return m;
}

for(let p=0;p<8;p++){
  const row=Math.floor(p/2), col=p%2;
  const L=colLeft[col], R=colRight[col], T=rowTop[row], B=T+panelH;
  const g=el('g',{});
  
  

  for(let s=7;s>=0;s--){
    const sg=el('g',{},g);
    
    
    const vals=panelSeries[p][s];
    for(let i=0;i<wavelengths.length&&i<vals.length;i++){
      const m=drawMarker(sg,shapes[s],xScale(col,wavelengths[i]),yScale(row,vals[i]),10,colors[s]);
      
      
    }
  }

  const frame=el('rect',{x:L,y:T,width:R-L,height:panelH,fill:'none',stroke:'#000','stroke-width':3},g);
  
  

  let d='';
  for(let nm=200;nm<=320;nm+=10){
    const x=xScale(col,nm), len=(nm%20===0)?16:9;
    d+=`M${x},${B}V${B-len}M${x},${T}V${T+len}`;
  }
  for(let v=-7;v<=9;v++){
    const y=yScale(row,v), len=(v%2===0)?16:9;
    d+=`M${L},${y}H${L+len}M${R},${y}H${R-len}`;
  }
  const ticks=el('path',{d:d,stroke:'#000','stroke-width':3,fill:'none'},g);
  
  

  if(col===0){
    for(const v of yTicks){
      const t=el('text',{x:L-18,y:yScale(row,v)+17,'text-anchor':'end','font-size':48,fill:'#000'},g);
      t.textContent=(v<0?'\u2212':'')+Math.abs(v);
      
      
    }
    const cy=T+panelH/2;
    const yt=el('text',{x:0,y:0,'text-anchor':'middle','font-size':62,fill:'#000',transform:`translate(122 ${cy}) rotate(-90)`},g);
    
    
    yt.innerHTML='[θ], 10<tspan dy="-24" font-size="42">3</tspan><tspan dy="24"> deg M</tspan><tspan dy="-24" font-size="42">-1</tspan><tspan dy="24">cm</tspan><tspan dy="-24" font-size="42">-1</tspan>';
  }
  if(row===3){
    for(const nm of xTicks){
      const t=el('text',{x:xScale(col,nm),y:B+57,'text-anchor':'middle','font-size':48,fill:'#000'},g);
      t.textContent=nm;
      
      
    }
    const xt=el('text',{x:(L+R)/2,y:3914,'text-anchor':'middle','font-size':62,fill:'#000'},g);
    xt.textContent='λ, nm';
    
    
  }
  const lt=el('text',{x:L+146,y:T+115,'font-size':57,fill:'#000'},g);
  lt.textContent=panelLetters[p];
  
  
  const kt=el('text',{x:L+146,y:T+190,'font-size':57,fill:'#000'},g);
  kt.textContent=panelKCl[p];
  
  
}

const lg=el('g',{});


const lbox=el('rect',{x:2377,y:609,width:295,height:585,fill:'#fff',stroke:'#000','stroke-width':2.5},lg);


for(let s=0;s<8;s++){
  const cy=651+s*71.8;
  const eg=el('g',{},lg);
  
  
  drawMarker(eg,shapes[s],2447,cy,8,colors[s]);
  const t=el('text',{x:2662,y:cy+19,'text-anchor':'end','font-size':55,fill:'#000'},eg);
  t.textContent=temps[s];
  
  
}
</script>
</body></html>
